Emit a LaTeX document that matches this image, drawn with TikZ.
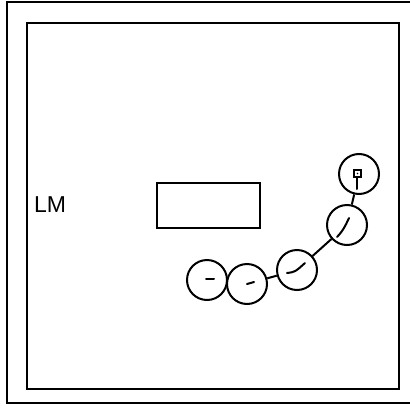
\documentclass[tikz,border=0pt]{standalone}
\usepackage{fontspec}
\setmainfont{Liberation Sans}
\usepackage{tikz}
\usetikzlibrary{positioning}

\begin{document}
\begin{tikzpicture}[x=0.5pt,y=-0.5pt,
    wheel/.style={circle,draw,line width=1pt,minimum size=20pt,inner sep=0pt},
    link/.style={line width=1pt},
    tick/.style={line width=1pt,line cap=round}]
        \clip (0,0) rectangle (410,412);
        \useasboundingbox (0,0) rectangle (410,412);
        % frames
        \draw[line width=0.6pt] (7,2) rectangle (416,403);
        \node[draw,line width=1.2pt,minimum width=186pt,minimum height=183pt,inner sep=0pt] (field) at (213,206) {};
        \node[font=\fontsize{11.5}{13}\selectfont] (lm) at (50,205) {LM};
        \node[draw,line width=1.1pt,minimum width=51.5pt,minimum height=22.5pt,inner sep=0pt] (box) at (208.5,205.5) {};
        % wheels
        \node[wheel] (c1) at (207,280) {};
        \node[wheel] (c2) at (247,284) {};
        \node[wheel] (c3) at (297,270) {};
        \node[wheel] (c4) at (347,225) {};
        \node[wheel] (c5) at (359,174) {};
        \draw[link] (c1) -- (c2);
        \draw[link] (c2) -- (c3);
        \draw[link] (c3) -- (c4);
        \draw[link] (c4) -- (c5);
        % marks inside the wheels
        \draw[tick] ([shift={(-1,-1)}]c1.center) -- ++(8,0);
        \draw[tick] ([shift={(0,0)}]c2.center) -- ++(7,-2);
        \draw[tick] ([shift={(-10,3)}]c3.center) .. controls ([shift={(-2,2)}]c3.center) .. ([shift={(8,-7)}]c3.center);
        \draw[tick] ([shift={(-10,12)}]c4.center) .. controls ([shift={(-3,5)}]c4.center) and ([shift={(0,-3)}]c4.center) .. ([shift={(2,-7)}]c4.center);
        \draw[line width=1pt] ([shift={(-5,-4)}]c5.center) rectangle ([shift={(2,3)}]c5.center);
        \fill ([shift={(-1.5,-0.5)}]c5.center) circle (0.8);
        \draw[tick] ([shift={(-2,3)}]c5.center) -- ([shift={(-2,15)}]c5.center);
\end{tikzpicture}
\end{document}
